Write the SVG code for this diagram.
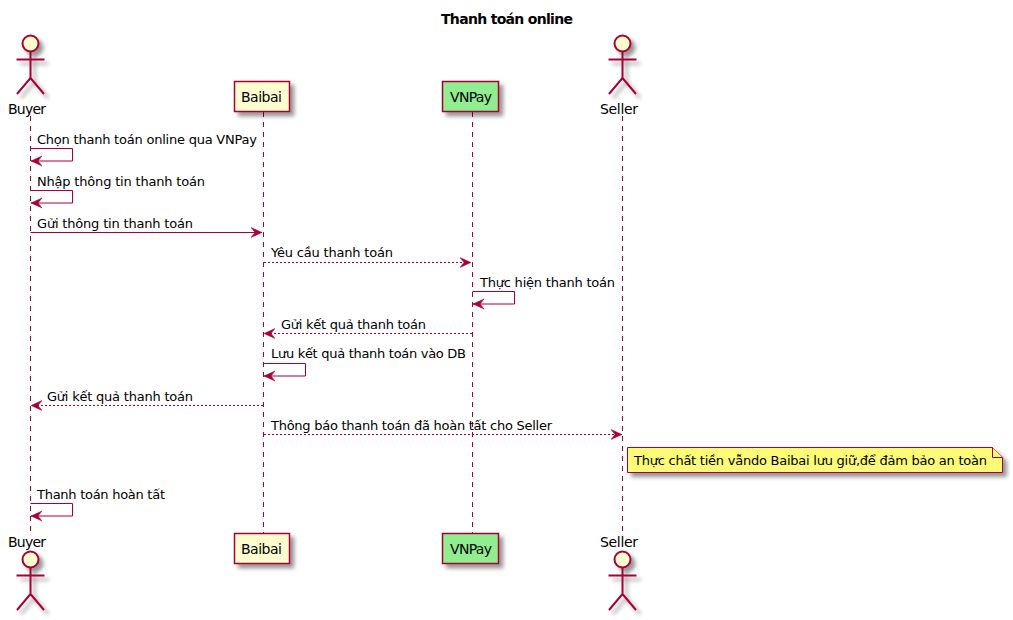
<svg xmlns="http://www.w3.org/2000/svg" width="1013" height="620" viewBox="0 0 1013 620">
<style>
text{font-family:"DejaVu Sans","Liberation Sans",sans-serif;font-size:13px;fill:#000}
.title{font-size:14px;font-weight:bold}
.name{font-size:14px}
.life{fill:none;stroke:#A80036;stroke-width:1;stroke-dasharray:5 5}
.msg{fill:none;stroke:#A80036;stroke-width:1;marker-end:url(#ah)}
.dash{stroke-dasharray:2 2}
.box{fill:#FEFECE;stroke:#A80036;stroke-width:1.5;filter:url(#sh)}
.vn{fill:#90EE90}
.stick{fill:none;stroke:#A80036;stroke-width:2}
.head{fill:#FEFECE;stroke:#A80036;stroke-width:2}
.note{fill:#FBFB77;stroke:#A80036;stroke-width:1}
</style>
<defs>
<filter id="sh" x="-30%" y="-30%" width="170%" height="170%">
<feGaussianBlur in="SourceAlpha" stdDeviation="2" result="b"/>
<feOffset in="b" dx="4" dy="4" result="o"/>
<feComponentTransfer in="o" result="s"><feFuncA type="linear" slope="0.42"/></feComponentTransfer>
<feMerge><feMergeNode in="s"/><feMergeNode in="SourceGraphic"/></feMerge>
</filter>
<marker id="ah" markerUnits="userSpaceOnUse" viewBox="0 0 12 12" markerWidth="12" markerHeight="12" refX="11" refY="6" orient="auto">
<path d="M0 1 L11 6 L0 11 L4 6 Z" fill="#A80036" stroke="#A80036" stroke-width="0.5"/>
</marker>
<g id="stickfig">
<circle class="head" cx="0" cy="8.5" r="8"/>
<path class="stick" d="M0 16.5V43M-14 24.5H14M0 43L-13.5 59M0 43L13.5 59"/>
</g>
</defs>
<text class="title" x="441" y="24" textLength="132">Thanh toán online</text>
<g id="lifelines">
<path class="life" d="M30.5 116V531"/>
<path class="life" d="M263.5 112V533"/>
<path class="life" d="M472.5 112V533"/>
<path class="life" d="M622.5 116V531"/>
</g>
<g id="connectors">
<path class="msg" d="M30.5 148.5H72.5V161H31"/>
<path class="msg" d="M30.5 190.5H72.5V203H31"/>
<path class="msg" d="M30.5 232.5H262"/>
<path class="msg dash" d="M264 262.5H471"/>
<path class="msg" d="M472.5 291.5H514.5V304H473"/>
<path class="msg dash" d="M472 333.5H264"/>
<path class="msg" d="M263.5 363.5H305.5V376H264"/>
<path class="msg dash" d="M263 405.5H31"/>
<path class="msg dash" d="M264 434.5H622"/>
<path class="msg" d="M30.5 503.5H72.5V516H31"/>
</g>
<g id="labels">
<text x="37" y="144" textLength="220">Chọn thanh toán online qua VNPay</text>
<text x="37" y="186" textLength="168">Nhập thông tin thanh toán</text>
<text x="37" y="228" textLength="156">Gửi thông tin thanh toán</text>
<text x="271" y="257" textLength="122">Yêu cầu thanh toán</text>
<text x="480" y="287" textLength="135">Thực hiện thanh toán</text>
<text x="281" y="329" textLength="145">Gửi kết quả thanh toán</text>
<text x="271" y="358" textLength="195">Lưu kết quả thanh toán vào DB</text>
<text x="47" y="401" textLength="146">Gửi kết quả thanh toán</text>
<text x="271" y="430" textLength="281">Thông báo thanh toán đã hoàn tất cho Seller</text>
<text x="37" y="499" textLength="128">Thanh toán hoàn tất</text>
</g>
<g id="buyer-top"><use href="#stickfig" x="30.5" y="35" filter="url(#sh)"/><text class="name" x="8" y="114" textLength="38">Buyer</text></g>
<g id="baibai-top"><rect class="box" x="234.5" y="81.5" width="55" height="30"/><text class="name" x="241" y="102" textLength="41">Baibai</text></g>
<g id="vnpay-top"><rect class="box vn" x="442.5" y="81.5" width="56" height="30"/><text class="name" x="450" y="102" textLength="42">VNPay</text></g>
<g id="seller-top"><use href="#stickfig" x="622.5" y="35" filter="url(#sh)"/><text class="name" x="600" y="114" textLength="38">Seller</text></g>
<g id="note"><path class="note" filter="url(#sh)" d="M627.5 447.5H992.5L1002.5 457.5V472.5H627.5Z"/><path class="note" d="M992.5 447.5V457.5H1002.5"/><text x="634" y="465" textLength="353">Thực chất tiền vẫndo Baibai lưu giữ,để đảm bảo an toàn</text></g>
<g id="buyer-bottom"><use href="#stickfig" x="30.5" y="551" filter="url(#sh)"/><text class="name" x="8" y="547" textLength="38">Buyer</text></g>
<g id="baibai-bottom"><rect class="box" x="234.5" y="533.5" width="55" height="30"/><text class="name" x="241" y="554" textLength="41">Baibai</text></g>
<g id="vnpay-bottom"><rect class="box vn" x="442.5" y="533.5" width="56" height="30"/><text class="name" x="450" y="554" textLength="42">VNPay</text></g>
<g id="seller-bottom"><use href="#stickfig" x="622.5" y="551" filter="url(#sh)"/><text class="name" x="600" y="547" textLength="38">Seller</text></g>
</svg>
